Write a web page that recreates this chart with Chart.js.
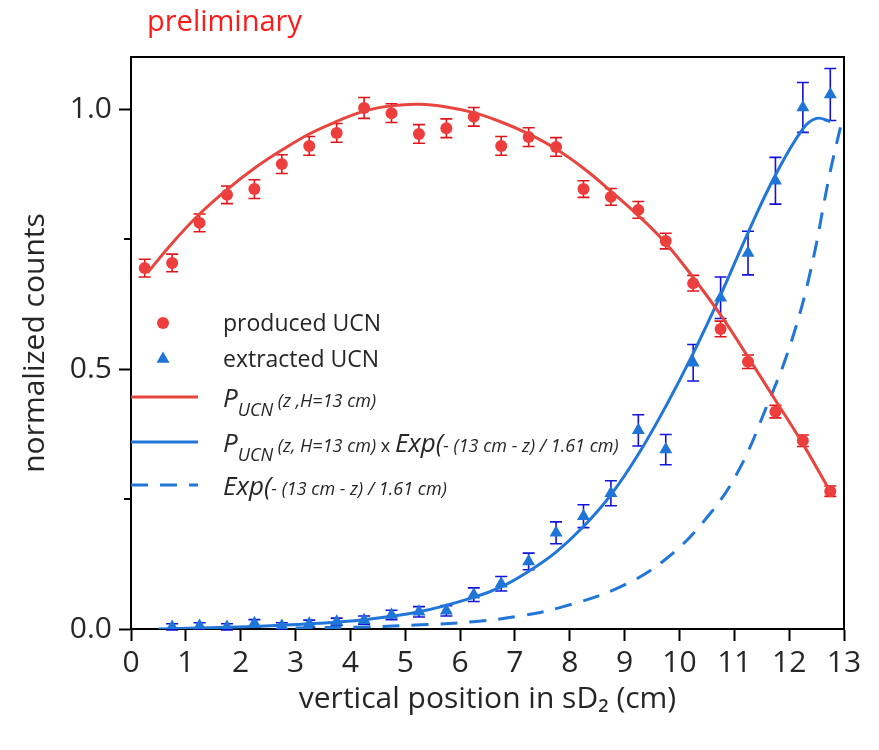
<!DOCTYPE html>
<html>
<head>
<meta charset="utf-8">
<title>UCN counts vs vertical position</title>
<script src="https://cdn.jsdelivr.net/npm/chart.js@4.4.1/dist/chart.umd.min.js"></script>
<style>
  html, body { margin: 0; padding: 0; background: #fff; }
  #wrap { width: 879px; height: 750px; }
</style>
</head>
<body>
<div id="wrap"><canvas id="mychart" width="879" height="750"></canvas></div>
<script>
// produced UCN (red dots)
const redX = [0.25, 0.75, 1.25, 1.75, 2.25, 2.75, 3.25, 3.75, 4.25, 4.75, 5.25, 5.75, 6.25,
              6.75, 7.25, 7.75, 8.25, 8.75, 9.25, 9.75, 10.25, 10.75, 11.25, 11.75, 12.25, 12.75];
const redY = [0.694, 0.704, 0.781, 0.835, 0.846, 0.894, 0.929, 0.954, 1.002, 0.992, 0.952, 0.963, 0.985,
              0.929, 0.946, 0.927, 0.846, 0.831, 0.806, 0.746, 0.665, 0.577, 0.514, 0.418, 0.362, 0.265];
const redErr = [0.017, 0.017, 0.017, 0.017, 0.018, 0.018, 0.018, 0.018, 0.02, 0.018, 0.018, 0.018, 0.018,
                0.018, 0.018, 0.018, 0.016, 0.016, 0.016, 0.015, 0.015, 0.015, 0.013, 0.012, 0.011, 0.01];

// extracted UCN (blue triangles)
const blueX = [0.75, 1.25, 1.75, 2.25, 2.75, 3.25, 3.75, 4.25, 4.75, 5.25, 5.75, 6.25,
               6.75, 7.25, 7.75, 8.25, 8.75, 9.25, 9.75, 10.25, 10.75, 11.25, 11.75, 12.25, 12.75];
const blueY = [0.004, 0.006, 0.004, 0.011, 0.006, 0.010, 0.014, 0.017, 0.027, 0.033, 0.035, 0.066,
               0.087, 0.13, 0.185, 0.217, 0.261, 0.382, 0.345, 0.512, 0.637, 0.723, 0.862, 1.003, 1.028];
const blueErr = [0.006, 0.006, 0.006, 0.007, 0.006, 0.007, 0.007, 0.008, 0.009, 0.01, 0.01, 0.013,
                 0.014, 0.016, 0.021, 0.022, 0.024, 0.03, 0.029, 0.035, 0.04, 0.042, 0.045, 0.048, 0.05];

// P_UCN(z, H=13 cm) curve
const pucnX = [0.3, 0.75, 1.25, 1.75, 2.25, 2.75, 3.25, 3.75, 4.25, 4.75, 5.25, 5.75, 6.25,
               6.75, 7.25, 7.75, 8.25, 8.75, 9.25, 9.75, 10.25, 10.75, 11.25, 11.75, 12.25, 12.75];
const pucnY = [0.685, 0.742, 0.798, 0.845, 0.886, 0.921, 0.952, 0.976, 0.996, 1.006, 1.009, 1.004, 0.993,
               0.975, 0.952, 0.923, 0.886, 0.842, 0.795, 0.742, 0.676, 0.604, 0.523, 0.440, 0.356, 0.264];

// P_UCN x Exp curve
const prodX = [0.5, 1.25, 2.25, 3.25, 4.25, 5.25, 6.25, 6.75, 7.25, 7.75, 8.25, 8.75, 9.25,
               9.75, 10.25, 10.75, 11.25, 11.75, 12.25, 12.5, 12.75];
const prodY = [0.0, 0.002, 0.005, 0.010, 0.018, 0.033, 0.061, 0.081, 0.111, 0.148, 0.197, 0.258, 0.336,
               0.428, 0.530, 0.642, 0.762, 0.873, 0.962, 0.982, 0.976];

// Exp(-(13 cm - z)/1.61 cm) dashed curve
const expX = [3.0, 4.3, 5.27, 6.24, 7.09, 7.88, 8.92, 9.77, 10.56, 11.10, 11.59, 12.01, 12.38, 12.74, 12.96];
const expY = [0.002, 0.004, 0.008, 0.014, 0.025, 0.043, 0.081, 0.136, 0.222, 0.309, 0.428, 0.543, 0.684, 0.875, 0.976];

const xTicks = [0, 1, 2, 3, 4, 5, 6, 7, 8, 9, 10, 11, 12, 13];
const yTicks = [0, 0.5, 1.0];
const yMinorTicks = [0.25, 0.75];

const RED = '#ee3d3d';
const RED_LINE = '#e8453f';
const RED_ERR = '#e0161c';
const BLUE = '#1f74d8';
const BLUE_LINE = '#2176d8';
const BLUE_ERR = '#1212dc';
const TEXT = '#262626';
const FONT = "'Open Sans', 'Noto Sans', sans-serif";

function pts(xs, ys) {
  return xs.map((x, i) => ({ x: x, y: ys[i] }));
}

// error bars with caps
function drawErr(ctx, sx, sy, xs, ys, es, color) {
  ctx.save();
  ctx.strokeStyle = color;
  ctx.lineWidth = 1.6;
  for (let i = 0; i < xs.length; i++) {
    const px = sx.getPixelForValue(xs[i]);
    const top = sy.getPixelForValue(ys[i] + es[i]);
    const bot = sy.getPixelForValue(ys[i] - es[i]);
    ctx.beginPath();
    ctx.moveTo(px, top); ctx.lineTo(px, bot);
    ctx.moveTo(px - 6, top); ctx.lineTo(px + 6, top);
    ctx.moveTo(px - 6, bot); ctx.lineTo(px + 6, bot);
    ctx.stroke();
  }
  ctx.restore();
}

const errorBars = {
  id: 'errorBars',
  beforeDatasetsDraw(chart) {
    const { ctx, scales } = chart;
    drawErr(ctx, scales.x, scales.y, redX, redY, redErr, RED_ERR);
    drawErr(ctx, scales.x, scales.y, blueX, blueY, blueErr, BLUE_ERR);
  }
};

// top/right frame, minor ticks, "preliminary" and the legend
const frame = {
  id: 'frame',
  afterDraw(chart) {
    const { ctx, chartArea: a, scales } = chart;
    ctx.save();
    ctx.strokeStyle = '#000';
    ctx.lineWidth = 2;
    ctx.beginPath();
    ctx.moveTo(a.left, a.top); ctx.lineTo(a.right, a.top); ctx.lineTo(a.right, a.bottom);
    yMinorTicks.forEach(v => {
      const py = scales.y.getPixelForValue(v);
      ctx.moveTo(a.left - 7, py); ctx.lineTo(a.left, py);
    });
    ctx.stroke();

    ctx.fillStyle = '#ff1a1a';
    ctx.font = '29px ' + FONT;
    ctx.textBaseline = 'alphabetic';
    ctx.fillText('preliminary', 147, 31);

    drawLegend(ctx, a);
    ctx.restore();
  }
};

function drawRuns(ctx, x, y, runs) {
  runs.forEach(r => {
    ctx.font = (r.it ? 'italic ' : '') + r.size + 'px ' + FONT;
    ctx.fillText(r.t, x, y + (r.dy || 0));
    x += ctx.measureText(r.t).width;
  });
}

function drawLegend(ctx, a) {
  const lx = a.left, tx = 223;
  ctx.fillStyle = TEXT;
  ctx.textBaseline = 'alphabetic';

  // produced UCN
  ctx.save();
  ctx.fillStyle = RED;
  ctx.beginPath(); ctx.arc(163, 323, 6, 0, Math.PI * 2); ctx.fill();
  ctx.restore();
  drawRuns(ctx, tx, 331, [{ t: 'produced UCN', size: 23 }]);

  // extracted UCN
  ctx.save();
  ctx.fillStyle = BLUE;
  ctx.beginPath();
  ctx.moveTo(163, 359 - 7.5);
  ctx.lineTo(163 + 6.5, 359 + 3.75);
  ctx.lineTo(163 - 6.5, 359 + 3.75);
  ctx.closePath(); ctx.fill();
  ctx.restore();
  drawRuns(ctx, tx, 367, [{ t: 'extracted UCN', size: 23 }]);

  // line samples
  ctx.save();
  ctx.lineWidth = 3;
  ctx.strokeStyle = RED_LINE;
  ctx.beginPath(); ctx.moveTo(lx, 397); ctx.lineTo(198, 397); ctx.stroke();
  ctx.strokeStyle = BLUE_LINE;
  ctx.beginPath(); ctx.moveTo(lx, 442); ctx.lineTo(198, 442); ctx.stroke();
  ctx.setLineDash([17, 12]);
  ctx.beginPath(); ctx.moveTo(lx, 485); ctx.lineTo(198, 485); ctx.stroke();
  ctx.restore();

  drawRuns(ctx, tx, 407, [
    { t: 'P', size: 26, it: true },
    { t: 'UCN', size: 18, it: true, dy: 9 },
    { t: ' (z ,H=13 cm)', size: 18, it: true }
  ]);
  drawRuns(ctx, tx, 452, [
    { t: 'P', size: 26, it: true },
    { t: 'UCN', size: 18, it: true, dy: 9 },
    { t: ' (z, H=13 cm) ', size: 18, it: true },
    { t: 'x ', size: 18 },
    { t: 'Exp(', size: 26, it: true },
    { t: '- (13 cm - z) / 1.61 cm)', size: 18, it: true }
  ]);
  drawRuns(ctx, tx, 495, [
    { t: 'Exp(', size: 26, it: true },
    { t: '- (13 cm - z) / 1.61 cm)', size: 18, it: true }
  ]);
}

Chart.defaults.font.family = FONT;
Chart.defaults.color = TEXT;

const ctx = document.getElementById('mychart');

new Chart(ctx, {
  type: 'scatter',
  data: {
    datasets: [
      {
        label: 'P_UCN (z ,H=13 cm)',
        data: pts(pucnX, pucnY),
        showLine: true, pointRadius: 0, borderColor: RED_LINE, borderWidth: 3,
        tension: 0.4, order: 1
      },
      {
        label: 'P_UCN (z, H=13 cm) x Exp(- (13 cm - z) / 1.61 cm)',
        data: pts(prodX, prodY),
        showLine: true, pointRadius: 0, borderColor: BLUE_LINE, borderWidth: 3,
        tension: 0.4, order: 1
      },
      {
        label: 'Exp(- (13 cm - z) / 1.61 cm)',
        data: pts(expX, expY),
        showLine: true, pointRadius: 0, borderColor: BLUE_LINE, borderWidth: 3,
        borderDash: [17, 12], tension: 0.4, order: 1
      },
      {
        label: 'produced UCN',
        data: pts(redX, redY),
        pointStyle: 'circle', pointRadius: 6, backgroundColor: RED, borderColor: RED, borderWidth: 0,
        order: 2
      },
      {
        label: 'extracted UCN',
        data: pts(blueX, blueY),
        pointStyle: 'triangle', pointRadius: 7.5, backgroundColor: BLUE, borderColor: BLUE, borderWidth: 0,
        order: 2
      }
    ]
  },
  options: {
    responsive: false,
    animation: false,
    layout: { padding: { top: 57, right: 35, left: 0, bottom: 0 } },
    plugins: {
      legend: { display: false },
      tooltip: { enabled: false }
    },
    scales: {
      x: {
        type: 'linear', min: 0, max: 13,
        afterFit: s => { s.height = 121; },
        afterBuildTicks: s => { s.ticks = xTicks.map(v => ({ value: v })); },
        border: { display: true, color: '#000', width: 2 },
        grid: { drawOnChartArea: false, drawTicks: true, tickLength: 12, tickColor: '#000', tickWidth: 2 },
        ticks: { color: TEXT, font: { size: 30 }, padding: 4, maxRotation: 0 },
        title: {
          display: true, text: 'vertical position in sD₂ (cm)', color: TEXT,
          font: { size: 30 }, padding: { top: 0, bottom: 33 }
        }
      },
      y: {
        type: 'linear', min: 0, max: 1.1,
        afterFit: s => { s.width = 131; },
        afterBuildTicks: s => { s.ticks = yTicks.map(v => ({ value: v })); },
        border: { display: true, color: '#000', width: 2 },
        grid: { drawOnChartArea: false, drawTicks: true, tickLength: 12, tickColor: '#000', tickWidth: 2 },
        ticks: { color: TEXT, font: { size: 30 }, padding: 7, callback: v => v.toFixed(1) },
        title: {
          display: true, text: 'normalized counts', color: TEXT,
          font: { size: 30 }, padding: { top: 17, bottom: 0 }
        }
      }
    }
  },
  plugins: [errorBars, frame]
});
</script>
</body>
</html>
